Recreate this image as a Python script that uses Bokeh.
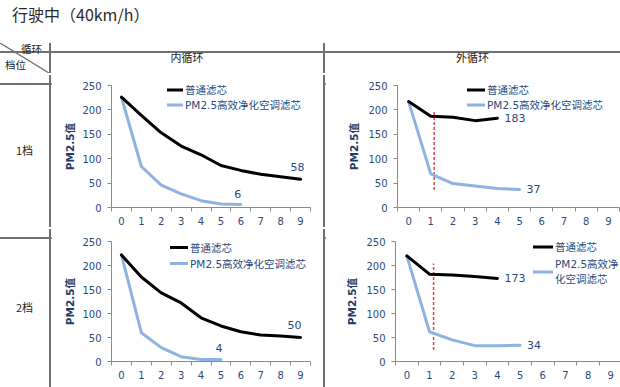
from bokeh.plotting import figure
from bokeh.layouts import row, column
from bokeh.models import Div, Range1d, FixedTicker, Legend, LegendItem
from bokeh.core.properties import value
from bokeh.embed import file_html
from bokeh.resources import INLINE

# ---------------- data ----------------
title_text = "行驶中（40km/h）"
col_headers = ["内循环", "外循环"]
row_headers = ["1档", "2档"]
corner_top = "循环"
corner_bottom = "档位"
series_names = ["普通滤芯", "PM2.5高效净化空调滤芯"]
series_names_wrapped = ["普通滤芯", "PM2.5高效净\n化空调滤芯"]
axis_title = "PM2.5值"
x_categories = [0, 1, 2, 3, 4, 5, 6, 7, 8, 9]
y_ticks = [0, 50, 100, 150, 200, 250]

# 1档 内循环
g1_in_normal = [226, 189, 153, 126, 108, 86, 76, 68, 63, 58]
g1_in_hepa = [226, 84, 46, 28, 14, 7, 6]
# 1档 外循环
g1_out_normal = [217, 187, 185, 178, 183]
g1_out_hepa = [217, 69, 49, 44, 39, 37]
# 2档 内循环
g2_in_normal = [222, 176, 143, 122, 91, 74, 62, 55, 53, 50]
g2_in_hepa = [222, 60, 29, 10, 4, 4]
# 2档 外循环
g2_out_normal = [220, 182, 180, 177, 173]
g2_out_hepa = [220, 62, 45, 33, 33, 34]

# red dashed marker lines in the 外循环 charts
g1_out_marker_x = 1.15
g1_out_marker_y = [36, 197]
g2_out_marker_x = 1.18
g2_out_marker_y = [24, 204]

# ---------------- style ----------------
LINE = "#707070"
BLACK = "#000000"
BLUE = "#8db3e2"
RED = "#e8423c"
TXT = "#2b4a7c"
AXT = "#1f3a66"
AXC = "#8a8a8a"
NUMF = "DejaVu Sans, Noto Sans CJK SC"
CJK = "Noto Sans CJK SC"


def make_chart(normal, hepa, width, height, mb, x_end, legend_loc, legend_rowh,
               legend_spacing, glyph_w, names, label_offsets, label_align,
               label_standoff, line_h=1.2, marker=None):
    p = figure(width=width, height=height,
               x_range=Range1d(-0.5, x_end), y_range=Range1d(0, 250),
               toolbar_location=None, output_backend="svg",
               min_border_left=mb[0], min_border_right=mb[1],
               min_border_top=mb[2], min_border_bottom=mb[3])
    p.xgrid.visible = False
    p.ygrid.visible = False
    p.outline_line_color = None
    p.background_fill_color = "white"
    p.border_fill_color = "white"

    # axes
    p.xaxis.ticker = FixedTicker(ticks=x_categories,
                                 minor_ticks=[c - 0.5 for c in x_categories] + [x_categories[-1] + 0.5])
    p.xaxis.major_tick_line_color = None
    p.xaxis.major_tick_out = 3
    p.xaxis.major_tick_in = 0
    p.xaxis.minor_tick_line_color = AXC
    p.xaxis.minor_tick_out = 4
    p.xaxis.minor_tick_in = 0
    p.xaxis.major_label_standoff = 5
    p.yaxis.ticker = FixedTicker(ticks=y_ticks)
    p.yaxis.minor_tick_line_color = None
    p.yaxis.major_tick_out = 4
    p.yaxis.major_tick_in = 0
    p.yaxis.major_tick_line_color = AXC
    p.yaxis.major_label_standoff = 6
    p.yaxis.axis_label = axis_title
    p.yaxis.axis_label_standoff = label_standoff
    p.yaxis.axis_label_text_font = NUMF
    p.yaxis.axis_label_text_font_size = "10.5px"
    p.yaxis.axis_label_text_font_style = "bold"
    p.yaxis.axis_label_text_color = AXT
    for ax in (p.xaxis, p.yaxis):
        ax.axis_line_color = AXC
        ax.axis_line_width = 1
        ax.major_label_text_font = NUMF
        ax.major_label_text_font_size = "10px"
        ax.major_label_text_color = TXT

    xs_n = x_categories[:len(normal)]
    xs_h = x_categories[:len(hepa)]

    if marker is not None:
        mx, my = marker
        p.segment(x0=[mx], y0=[my[0]], x1=[mx], y1=[my[1]], line_color=RED,
                  line_width=1.5, line_dash="3 2")

    r_h = p.line(xs_h, hepa, line_color=BLUE, line_width=3, line_join="round", line_cap="round")
    r_n = p.line(xs_n, normal, line_color=BLACK, line_width=3, line_join="round", line_cap="round")

    # end-of-series data labels
    for xs, ys, off in ((xs_n, normal, label_offsets[0]), (xs_h, hepa, label_offsets[1])):
        p.text(x=[xs[-1]], y=[ys[-1]], text=[str(ys[-1])], x_offset=off[0], y_offset=off[1],
               text_align=label_align, text_baseline="middle", text_font=value(NUMF),
               text_font_size="11px", text_color=TXT)

    leg = Legend(items=[LegendItem(label=names[0], renderers=[r_n]),
                        LegendItem(label=names[1], renderers=[r_h])],
                 location=legend_loc, orientation="vertical", padding=0, margin=0,
                 spacing=legend_spacing, glyph_width=glyph_w, glyph_height=legend_rowh,
                 label_height=legend_rowh, label_standoff=2,
                 label_text_font=NUMF, label_text_font_size="10.5px",
                 label_text_color=TXT, label_text_line_height=line_h,
                 border_line_color=None, background_fill_alpha=0)
    p.add_layout(leg)
    return p


# widths / heights of the table grid
W_LEFT, W_C1, W_C2, LW = 49, 272, 295, 2
H_TITLE, H_HEAD, H_R1, H_R2 = 41, 30, 152, 158
TOTAL_W = W_LEFT + W_C1 + W_C2 + 2 * LW


def hline():
    return Div(text=f'<div style="width:{TOTAL_W}px;height:{LW}px;background:{LINE}"></div>',
               width=TOTAL_W, height=LW, margin=0)


def vline(h):
    return Div(text=f'<div style="width:{LW}px;height:{h}px;background:{LINE}"></div>',
               width=LW, height=h, margin=0)


def cell(txt, w, h, size="11px"):
    html = (f'<div style="width:{w}px;height:{h}px;display:flex;align-items:center;'
            f'justify-content:center;font-family:{CJK};font-size:{size};color:#222">{txt}</div>')
    return Div(text=html, width=w, height=h, margin=0)


title = Div(text=(f'<div style="padding-top:4px;padding-left:12px;font-family:{CJK};'
                  f'font-size:16px;line-height:20px;color:#2a2a2a">{title_text}</div>'),
            width=TOTAL_W, height=H_TITLE, margin=0)

corner_html = (f'<div style="position:relative;width:{W_LEFT}px;height:{H_HEAD}px;'
               f'font-family:{CJK};font-size:10.5px;line-height:12px;color:#222">'
               f'<svg width="{W_LEFT}" height="{H_HEAD}" style="position:absolute;left:0;top:0">'
               f'<line x1="0" y1="0" x2="{W_LEFT}" y2="{H_HEAD}" stroke="{LINE}" stroke-width="1.3"/></svg>'
               f'<span style="position:absolute;left:21px;top:0px">{corner_top}</span>'
               f'<span style="position:absolute;left:5px;top:16px">{corner_bottom}</span></div>')
corner = Div(text=corner_html, width=W_LEFT, height=H_HEAD, margin=0)

c11 = make_chart(g1_in_normal, g1_in_hepa, W_C1, H_R1, (60, 13, 10, 19), 9.5,
                 (56, 95), 15, -2, 16, series_names,
                 ((-3, -12), (-3, -11)), "center", 3)
c12 = make_chart(g1_out_normal, g1_out_hepa, W_C2, H_R1, (72, 1, 10, 19), 9.5,
                 (70, 95), 15, -2, 18, series_names,
                 ((7, 0), (7, 0)), "left", 5, marker=(g1_out_marker_x, g1_out_marker_y))
c21 = make_chart(g2_in_normal, g2_in_hepa, W_C1, H_R2, (60, 13, 12, 24), 9.5,
                 (59, 90), 16, 0, 18, series_names,
                 ((-6, -13), (-2, -12)), "center", 3)
c22 = make_chart(g2_out_normal, g2_out_hepa, W_C2, H_R2, (70, 0, 6, 26), 9.43,
                 (138, 75), 15, 2, 20, series_names_wrapped,
                 ((7, 0), (7, 0)), "left", 5, line_h=1.35,
                 marker=(g2_out_marker_x, g2_out_marker_y))

layout = column(
    title,
    hline(),
    row(corner, vline(H_HEAD), cell(col_headers[0], W_C1, H_HEAD), vline(H_HEAD),
        cell(col_headers[1], W_C2, H_HEAD), spacing=0),
    hline(),
    row(cell(row_headers[0], W_LEFT, H_R1), vline(H_R1), c11, vline(H_R1), c12, spacing=0),
    hline(),
    row(cell(row_headers[1], W_LEFT, H_R2), vline(H_R2), c21, vline(H_R2), c22, spacing=0),
    spacing=0,
)

open("out.html", "w").write(file_html(layout, INLINE))
